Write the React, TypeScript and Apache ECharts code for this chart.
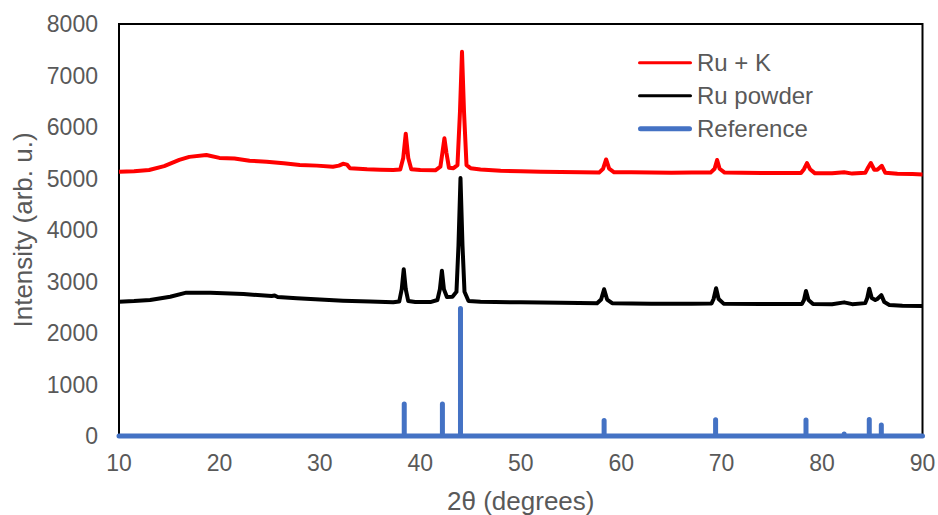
import React, { useEffect, useRef } from "react";
import * as echarts from "echarts";

const ruKX = [10, 11.5, 13, 14.5, 16, 17, 18.7, 20, 21.5, 23, 24.7, 26.4, 28, 29.7, 31.3, 31.9, 32.3, 32.7, 33, 34.7, 36, 37.3, 38.0, 38.3, 38.55, 38.8, 39.1, 40, 41.5, 42.0, 42.2, 42.4, 42.6, 42.85, 43.3, 43.7, 43.95, 44.15, 44.35, 44.6, 45, 46, 48, 50, 52, 54, 56, 57.8, 58.2, 58.5, 58.8, 59.3, 61, 63, 65, 67, 68.9, 69.3, 69.55, 69.8, 70.3, 72, 74, 76, 77.9, 78.2, 78.5, 78.8, 79.3, 81, 82.2, 83, 84.3, 84.6, 84.85, 85.2, 85.5, 85.95, 86.3, 87.5, 89, 90];
const ruKY = [5130, 5140, 5165, 5240, 5360, 5420, 5455, 5400, 5390, 5345, 5325, 5295, 5262, 5250, 5230, 5250, 5285, 5270, 5200, 5178, 5170, 5165, 5175, 5400, 5870, 5400, 5180, 5165, 5160, 5230, 5500, 5780, 5500, 5210, 5200, 5260, 6300, 7460, 6300, 5260, 5200, 5175, 5150, 5140, 5132, 5125, 5120, 5115, 5190, 5370, 5190, 5120, 5120, 5115, 5110, 5115, 5115, 5190, 5360, 5190, 5115, 5110, 5105, 5105, 5105, 5180, 5300, 5180, 5100, 5100, 5120, 5095, 5110, 5220, 5300, 5170, 5170, 5245, 5110, 5090, 5085, 5080];

const ruPowderX = [10, 11.5, 13.1, 15.1, 16.7, 19.1, 22.4, 25.2, 25.5, 25.8, 27.7, 30, 32.3, 35, 37.3, 37.9, 38.15, 38.35, 38.55, 38.8, 39.5, 41, 41.7, 41.95, 42.15, 42.35, 42.65, 43.2, 43.6, 43.8, 44.0, 44.2, 44.4, 44.8, 46, 50, 54, 57.6, 58.0, 58.3, 58.6, 59.1, 63, 67, 69.0, 69.2, 69.45, 69.7, 70.2, 74, 78.0, 78.2, 78.4, 78.65, 79.1, 81, 82.2, 83, 84.3, 84.5, 84.7, 84.95, 85.3, 85.5, 85.9, 86.2, 86.7, 88, 90];
const ruPowderY = [2608, 2620, 2641, 2705, 2783, 2783, 2757, 2718, 2728, 2700, 2673, 2650, 2627, 2610, 2596, 2610, 2850, 3237, 2850, 2620, 2600, 2600, 2640, 2850, 3210, 2850, 2700, 2705, 2800, 3700, 5010, 3700, 2800, 2620, 2608, 2595, 2585, 2577, 2650, 2850, 2650, 2580, 2570, 2570, 2575, 2660, 2870, 2660, 2570, 2565, 2565, 2640, 2815, 2640, 2565, 2560, 2595, 2560, 2580, 2680, 2860, 2680, 2640, 2660, 2735, 2600, 2545, 2530, 2524];

const refX = [38.4, 42.2, 44.0, 58.3, 69.4, 78.4, 82.2, 84.7, 85.9];
const refY = [620, 620, 2475, 300, 315, 310, 40, 320, 215];

const xTicks = [10, 20, 30, 40, 50, 60, 70, 80, 90];
const yTicks = [0, 1000, 2000, 3000, 4000, 5000, 6000, 7000, 8000];

const seriesNames = ["Ru + K", "Ru powder", "Reference"];

const GRAY = "#595959";
const FONT = "'Liberation Sans', Arial, sans-serif";

export default function App() {
  const ref = useRef<HTMLDivElement>(null);
  useEffect(() => {
    if (!ref.current) return;
    const chart = echarts.init(ref.current, null, { renderer: "svg" });
    const ruK = ruKX.map((x, i) => [x, ruKY[i]]);
    const ruP = ruPowderX.map((x, i) => [x, ruPowderY[i]]);
    const refData: number[][] = [[xTicks[0], 0]];
    refX.forEach((x, i) => {
      refData.push([x, 0], [x, refY[i]], [x, 0]);
    });
    refData.push([xTicks[xTicks.length - 1], 0]);

    const thinIcon = "path://M1.5,0 L52.5,0 A1.5,1.5 0 0 1 52.5,3 L1.5,3 A1.5,1.5 0 0 1 1.5,0 Z";
    const thickIcon = "path://M2.5,0 L51.5,0 A2.5,2.5 0 0 1 51.5,5 L2.5,5 A2.5,2.5 0 0 1 2.5,0 Z";

    chart.setOption({
      animation: false,
      backgroundColor: "#fff",
      textStyle: { fontFamily: FONT },
      grid: {
        left: 119,
        right: 15.5,
        top: 24,
        bottom: 79,
        containLabel: false,
        outerBoundsMode: "none",
        show: true,
        borderColor: "#000",
        borderWidth: 2,
        backgroundColor: "transparent",
      },
      legend: {
        orient: "vertical",
        left: 638,
        top: 50.7,
        padding: 0,
        itemWidth: 54,
        itemHeight: 5,
        itemGap: 9,
        symbolKeepAspect: true,
        data: [
          { name: seriesNames[0], icon: thinIcon },
          { name: seriesNames[1], icon: thinIcon },
          { name: seriesNames[2], icon: thickIcon },
        ],
        textStyle: { color: GRAY, fontSize: 24, fontFamily: FONT },
      },
      xAxis: {
        type: "value",
        min: xTicks[0],
        max: xTicks[xTicks.length - 1],
        interval: 10,
        name: "2θ (degrees)",
        nameLocation: "middle",
        nameGap: 52,
        nameTextStyle: { color: GRAY, fontSize: 26, fontFamily: FONT },
        axisLine: { show: true, lineStyle: { color: "#000", width: 2 } },
        axisTick: { show: false },
        splitLine: { show: false },
        axisLabel: { color: GRAY, fontSize: 23, margin: 15, fontFamily: FONT, formatter: (v: number) => String(v) },
      },
      yAxis: {
        type: "value",
        min: yTicks[0],
        max: yTicks[yTicks.length - 1],
        interval: 1000,
        name: "Intensity (arb. u.)",
        nameLocation: "middle",
        nameGap: 82,
        nameTextStyle: { color: GRAY, fontSize: 26, fontFamily: FONT },
        axisLine: { show: true, lineStyle: { color: "#000", width: 2 } },
        axisTick: { show: false },
        splitLine: { show: false },
        axisLabel: { color: GRAY, fontSize: 23, margin: 21, fontFamily: FONT, formatter: (v: number) => String(v) },
      },
      series: [
        {
          name: seriesNames[0],
          type: "line",
          data: ruK,
          symbol: "none",
          color: "#ff0000",
          lineStyle: { color: "#ff0000", width: 4, join: "round" },
        },
        {
          name: seriesNames[1],
          type: "line",
          data: ruP,
          symbol: "none",
          color: "#000000",
          lineStyle: { color: "#000000", width: 4, join: "round" },
        },
        {
          name: seriesNames[2],
          type: "line",
          data: refData,
          symbol: "none",
          clip: false,
          color: "#4472c4",
          lineStyle: { color: "#4472c4", width: 5, join: "round", cap: "round" },
          z: 5,
        },
      ],
    });
    return () => chart.dispose();
  }, []);
  return <div ref={ref} style={{ width: 938, height: 515, position: "absolute", left: 0, top: 0 }} />;
}
